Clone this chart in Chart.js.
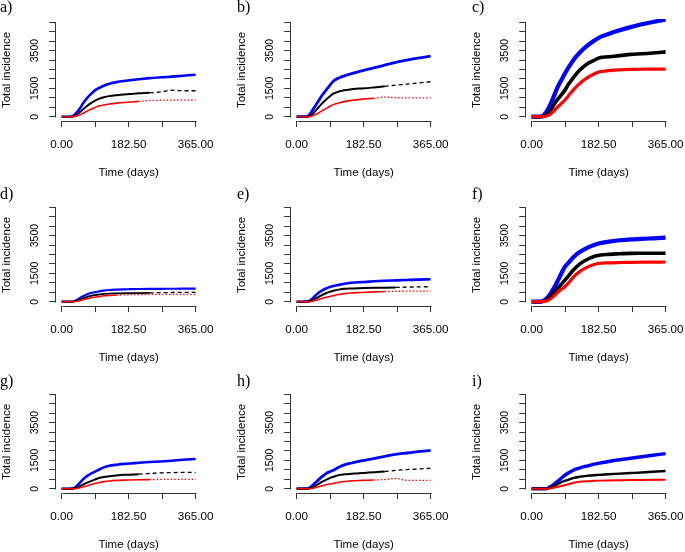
<!DOCTYPE html>
<html><head><meta charset="utf-8">
<script src="https://cdn.jsdelivr.net/npm/chart.js@4/dist/chart.umd.min.js"></script>
<style>
html,body{margin:0;padding:0;background:#fff;}
#wrap{position:relative;width:685px;height:552px;overflow:hidden;background:#fff;}
#wrap canvas{position:absolute;}
.lab{position:absolute;font-family:"Liberation Serif","Times New Roman",serif;font-size:16px;line-height:16px;color:#000;}
</style></head><body><div id="wrap"></div>
<script>
// ---- data ----
const days = [0,20,30,40,50,60,70,80,90,100,115,130,150,170,185,210,240,270,300,330,365];
const panelLabels = ['a)','b)','c)','d)','e)','f)','g)','h)','i)'];
const xTickValues = [0,91.25,182.5,273.75,365];
const xTickLabels = ['0.00','','182.50','','365.00'];
const yTickValues = [0,500,1000,1500,2000,2500,3000,3500,4000,4500,5000];
const yTickLabels = ['0','','','1500','','','','3500','','',''];
const xTitle = 'Time (days)';
const yTitle = 'Total incidence';

const aBlue  = [0,0,30,200,450,750,1000,1200,1380,1500,1640,1740,1830,1890,1925,1980,2040,2090,2120,2170,2220];
const aBlack = [0,0,10,80,250,420,580,720,840,930,1030,1090,1140,1180,1200,1240,1270,1310,1400,1375,1375];
const aRed   = [0,0,5,30,100,200,300,400,480,560,620,670,720,755,775,810,860,870,880,880,880];

const bBlue  = [0,0,20,250,550,850,1150,1400,1650,1880,2050,2160,2280,2390,2470,2580,2730,2880,2990,3100,3200];
const bBlack = [0,0,5,90,280,500,720,900,1070,1220,1330,1400,1450,1490,1505,1550,1610,1670,1720,1780,1850];
const bRed   = [0,0,0,30,100,200,320,430,540,640,730,800,860,910,945,980,1040,1005,1000,1000,1000];

const cBlue  = [0,0,40,250,600,1050,1530,1900,2260,2590,3030,3370,3730,4020,4200,4380,4570,4740,4890,5010,5140];
const cBlack = [0,0,10,100,300,620,900,1130,1380,1700,2100,2440,2780,2980,3120,3170,3230,3300,3330,3370,3430];
const cRed   = [0,0,5,40,120,290,500,680,860,1100,1450,1740,2040,2260,2380,2440,2480,2500,2510,2515,2520];

const dBlue  = [0,0,10,80,200,310,400,460,500,540,590,620,640,655,662,672,680,684,686,688,690];
const dBlack = [0,0,5,40,110,190,260,310,350,375,410,430,440,447,452,458,468,480,488,492,495];
const dRed   = [0,0,0,20,60,110,160,210,240,265,310,335,350,362,370,378,384,386,388,390,390];

const eBlue  = [0,0,5,120,300,470,600,700,780,830,890,950,1000,1030,1045,1080,1110,1130,1150,1170,1185];
const eBlack = [0,0,5,50,150,260,360,450,520,580,640,680,700,718,727,738,745,755,770,782,795];
const eRed   = [0,0,0,20,60,120,180,230,280,320,380,430,465,485,497,522,540,550,557,562,565];

const fBlue  = [0,0,30,150,380,700,1060,1450,1830,2050,2380,2620,2840,3000,3095,3180,3250,3300,3325,3355,3390];
const fBlack = [0,0,10,80,250,460,690,900,1130,1350,1700,1980,2220,2390,2460,2505,2535,2560,2563,2565,2565];
const fRed   = [0,0,5,40,130,290,470,640,780,980,1330,1580,1820,1970,2035,2060,2075,2085,2090,2095,2100];

const gBlue  = [0,0,5,120,320,520,680,800,890,990,1130,1210,1270,1315,1330,1370,1410,1440,1480,1530,1575];
const gBlack = [0,0,5,50,130,230,320,400,480,550,620,660,705,735,745,770,805,840,855,860,865];
const gRed   = [0,0,0,15,50,100,160,220,275,320,375,410,440,455,462,472,482,490,495,495,495];

const hBlue  = [0,0,0,120,300,480,650,800,900,980,1140,1260,1360,1450,1500,1590,1710,1820,1890,1960,2030];
const hBlack = [0,0,5,50,140,260,370,470,560,630,720,760,790,820,833,865,910,970,1010,1045,1080];
const hRed   = [0,0,0,15,50,100,160,210,250,280,340,385,415,435,445,462,485,540,445,440,440];

const iBlue  = [0,0,0,0,100,220,380,540,700,830,990,1090,1200,1300,1355,1440,1530,1610,1690,1770,1855];
const iBlack = [0,0,0,0,60,140,240,340,410,470,575,630,680,715,730,765,800,830,860,895,935];
const iRed   = [0,0,0,0,20,55,100,140,185,240,320,365,395,415,428,440,450,460,467,472,477];

// day after which the black series is dashed / the red series is dotted (null = solid throughout)
const blackDashFrom = [232,235,null,213,245,null,195,217,null];
const redDotFrom    = [186,190,null,140,217,null,213,200,null];

const panels = [
  [aBlue,aBlack,aRed],[bBlue,bBlack,bRed],[cBlue,cBlack,cRed],
  [dBlue,dBlack,dRed],[eBlue,eBlack,eRed],[fBlue,fBlack,fRed],
  [gBlue,gBlack,gRed],[hBlue,hBlack,hRed],[iBlue,iBlack,iRed]
];

// ---- layout / style ----
const colLeft = [0,235,470];
const rowTop = [0,185,372];
const CW = 215, CH = 180;
const widths = [[2.6,2,1.6],[2.8,2,1.6],[4.2,3.6,3.2],[2.2,1.8,1.5],[2.6,2,1.6],[4.2,3.6,3.2],[2.6,2,1.6],[2.8,2,1.6],[3.4,2.4,2]];

const axisLines = {
  id:'axisLines',
  afterDraw(chart){
    const {ctx, chartArea, scales:{x,y}} = chart;
    ctx.save();
    ctx.strokeStyle = '#333';
    ctx.lineWidth = 1;
    ctx.beginPath();
    const by = Math.round(chartArea.bottom)+0.5;
    ctx.moveTo(Math.round(x.getPixelForValue(0))+0.5, by);
    ctx.lineTo(Math.round(x.getPixelForValue(365))+0.5, by);
    const lx = Math.round(chartArea.left)-0.5;
    ctx.moveTo(lx, Math.round(y.getPixelForValue(0))+0.5);
    ctx.lineTo(lx, Math.round(y.getPixelForValue(5000))+0.5);
    ctx.stroke();
    ctx.restore();
  }
};

const wrap = document.getElementById('wrap');
panels.forEach((series, k) => {
  const r = Math.floor(k/3), c = k%3;
  const cv = document.createElement('canvas');
  cv.width = CW; cv.height = CH;
  cv.style.left = colLeft[c]+'px'; cv.style.top = rowTop[r]+'px';
  cv.style.width = CW+'px'; cv.style.height = CH+'px';
  wrap.appendChild(cv);
  const lab = document.createElement('div');
  lab.className = 'lab';
  lab.textContent = panelLabels[k];
  lab.style.left = (colLeft[c] + (c===0?0:2))+'px';
  lab.style.top = (rowTop[r] + (r===0?-1:1))+'px';
  wrap.appendChild(lab);

  const mk = (vals, color, w, dashFrom, dash) => ({
    data: days.map((d,i)=>({x:d,y:vals[i]})),
    borderColor: color, borderWidth: w, pointRadius: 0,
    cubicInterpolationMode: 'monotone', fill: false,
    segment: dashFrom == null ? {} : {
      borderDash: ctx => ctx.p0.parsed.x >= dashFrom ? dash : undefined,
      borderWidth: ctx => ctx.p0.parsed.x >= dashFrom ? 1.3 : undefined
    }
  });
  new Chart(cv, {
    type: 'line',
    data: { datasets: [
      mk(series[2], '#ff0000', widths[k][2], redDotFrom[k], [1.5,2]),
      mk(series[1], '#000000', widths[k][1], blackDashFrom[k], [4,3]),
      mk(series[0], '#0000ff', widths[k][0], null, null)
    ]},
    options: {
      responsive: false, animation: false, devicePixelRatio: 1,
      layout: { autoPadding: false, padding: { left: 0, top: 18.9, right: 14.04, bottom: 0 } },
      plugins: { legend: {display:false}, tooltip: {enabled:false} },
      scales: {
        x: {
          type: 'linear', min: -14.6, max: 379.6, bounds: 'data',
          afterBuildTicks: s => { s.ticks = xTickValues.map(v=>({value:v})); },
          afterFit: s => { s.height = 58.9; s.paddingLeft = 0; s.paddingRight = 0; },
          ticks: { autoSkip:false, maxRotation:0, minRotation:0, padding: 11,
            color:'#000', font:{family:'"Liberation Sans", Arial, sans-serif', size:11.7},
            callback: (v,i) => xTickLabels[i] },
          grid: { drawOnChartArea:false, drawTicks:true, tickLength:6, color:'#333', lineWidth:1 },
          border: { display:false },
          title: { display:true, text:xTitle, color:'#000', padding:{top:0,bottom:0},
            font:{family:'"Liberation Sans", Arial, sans-serif', size:11.5} }
        },
        y: {
          type: 'linear', min: -232, max: 5175, bounds: 'data',
          afterBuildTicks: s => { s.ticks = yTickValues.map(v=>({value:v})); },
          afterFit: s => { s.width = 56.24; s.paddingTop = 0; s.paddingBottom = 0; },
          ticks: { autoSkip:false, minRotation:90, maxRotation:90, crossAlign:'center', padding: 2,
            color:'#000', font:{family:'"Liberation Sans", Arial, sans-serif', size:10.5},
            callback: (v,i) => yTickLabels[i] },
          grid: { drawOnChartArea:false, drawTicks:true, tickLength:7, color:'#333', lineWidth:1 },
          border: { display:false },
          title: { display:true, text:yTitle, color:'#000', padding:{top:0,bottom:0},
            font:{family:'"Liberation Sans", Arial, sans-serif', size:11.5} }
        }
      }
    },
    plugins: [axisLines]
  });
});
</script></body></html>
